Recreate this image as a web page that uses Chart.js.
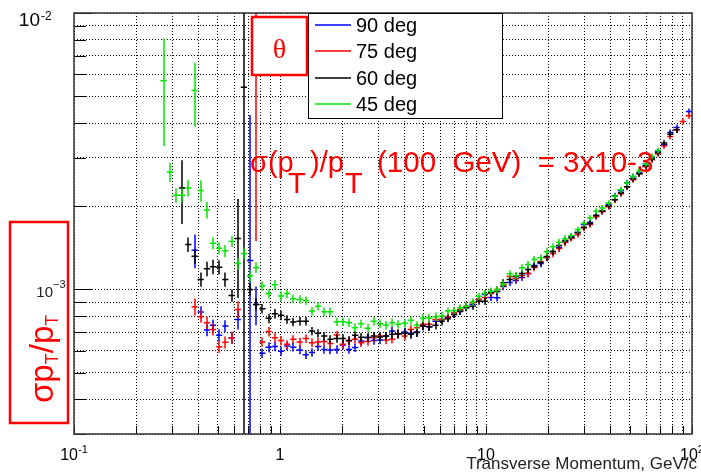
<!DOCTYPE html>
<html lang="en">
<head>
<meta charset="UTF-8">
<title>pT resolution vs transverse momentum</title>
<script src="https://cdn.jsdelivr.net/npm/chart.js"></script>
<style>
  html, body { margin: 0; padding: 0; background: #fff; }
  #wrap { position: relative; width: 701px; height: 473px; }
</style>
</head>
<body>
<div id="wrap"><canvas id="chart" width="701" height="473"></canvas></div>
<script>
// bin centres (GeV/c), log bins
const pT = [
  0.272, 0.292, 0.313, 0.335, 0.359, 0.385, 0.412, 0.442, 0.473, 0.507,
  0.543, 0.582, 0.624, 0.668, 0.716, 0.767, 0.822, 0.881, 0.944, 1.012,
  1.084, 1.161, 1.245, 1.334, 1.429, 1.531, 1.641, 1.758, 1.884, 2.018,
  2.163, 2.317, 2.483, 2.661, 2.851, 3.055, 3.273, 3.508, 3.758, 4.027,
  4.315, 4.624, 4.955, 5.309, 5.689, 6.095, 6.531, 6.998, 7.499, 8.035,
  8.610, 9.226, 9.886, 10.59, 11.35, 12.16, 13.03, 13.96, 14.96, 16.03,
  17.18, 18.41, 19.72, 21.13, 22.65, 24.27, 26.00, 27.86, 29.85, 31.99,
  34.28, 36.73, 39.36, 42.17, 45.19, 48.42, 51.88, 55.59, 59.57, 63.83,
  68.39, 73.28, 78.52, 84.14, 90.16, 96.61
];

// sigma(pT)/pT in units of 1e-3 (null = empty bin)
const res90 = [
  null, null, null, null, null, 1.387, 0.828, 0.713, 0.742, 0.683,
  0.737, 0.669, 0.779, null, 1.273, 0.883, 0.588, 0.618, 0.622, 0.598,
  0.624, 0.618, 0.604, 0.581, 0.592, 0.622, 0.607, 0.604, 0.607, 0.629,
  0.607, 0.616, 0.651, 0.670, 0.654, 0.656, 0.678, 0.707, 0.688, 0.701,
  0.694, 0.701, 0.737, 0.733, 0.768, 0.779, 0.793, 0.812, 0.833, 0.861,
  0.883, 0.920, 0.959, 0.936, 0.933, 1.025, 1.060, 1.078, 1.105, 1.142,
  1.221, 1.241, 1.305, 1.371, 1.418, 1.503, 1.554, 1.606, 1.716, 1.746,
  1.850, 1.928, 2.027, 2.184, 2.276, 2.433, 2.557, 2.643, 2.848, 2.994,
  3.147, 3.335, 3.698, 3.854, null, 4.402
];
const res75 = [
  null, null, null, null, null, 0.866, 0.797, 0.758, 0.717, 0.621,
  0.644, 0.668, 0.847, null, null, 13.0, 0.646, 0.704, 0.669, 0.653,
  0.633, 0.660, 0.646, 0.664, 0.642, 0.646, 0.648, 0.637, 0.684, 0.633,
  0.651, 0.660, 0.642, 0.648, 0.669, 0.678, 0.656, 0.660, 0.692, 0.678,
  0.717, 0.727, 0.748, 0.748, 0.779, 0.779, 0.797, 0.824, 0.847, 0.870,
  0.895, 0.920, 0.936, 0.967, 1.000, 1.034, 1.114, 1.096, 1.123, 1.142,
  1.200, 1.262, 1.305, 1.349, 1.406, 1.478, 1.528, 1.580, 1.667, 1.716,
  1.834, 1.912, 1.993, 2.112, 2.220, 2.353, 2.494, 2.621, 2.778, 2.945,
  3.095, 3.308, 3.575, 3.778, 4.051, 4.248
];
const res60 = [
  null, null, null, 2.33, 1.454, 1.319, 1.087, 1.188, 1.208, 1.204,
  1.087, 0.951, 1.528, 5.39, 1.00, 0.883, 0.852, 0.786, 0.817, 0.806,
  0.779, 0.762, 0.768, 0.768, 0.707, 0.694, 0.678, 0.660, 0.665, 0.665,
  0.654, 0.683, 0.672, 0.670, 0.678, 0.673, 0.678, 0.688, 0.692, 0.694,
  0.688, 0.698, 0.737, 0.733, 0.742, 0.768, 0.784, 0.812, 0.835, 0.859,
  0.870, 0.907, 0.907, 0.975, 0.983, 1.057, 1.087, 1.114, 1.142, 1.181,
  1.211, 1.252, 1.316, 1.371, 1.441, 1.497, 1.541, 1.606, 1.680, 1.731,
  1.850, 1.928, 2.010, 2.112, 2.238, 2.353, 2.515, 2.621, 2.801, 2.970,
  3.121, 3.386, 3.642, 3.778, null, null
];
const res45 = [
  5.69, 2.66, 2.19, 2.19, 2.33, 5.24, 2.28, 1.94, 1.47, 1.41,
  1.38, 1.49, 1.24, 1.35, 1.12, 1.20, 1.03, 0.967, 1.04, 0.947,
  0.966, 0.926, 0.920, 0.912, 0.835, 0.870, 0.831, 0.831, 0.764, 0.764,
  0.758, 0.727, 0.752, 0.724, 0.768, 0.752, 0.743, 0.758, 0.748, 0.754,
  0.773, 0.742, 0.786, 0.788, 0.797, 0.801, 0.835, 0.840, 0.859, 0.870,
  0.900, 0.944, 0.967, 0.986, 1.000, 1.043, 1.139, 1.123, 1.198, 1.231,
  1.283, 1.301, 1.368, 1.426, 1.482, 1.524, 1.566, 1.646, 1.731, 1.812,
  1.918, 1.972, 2.056, 2.172, 2.295, 2.428, 2.565, 2.690, 2.850, 3.029,
  3.184, null, null, null, null, null
];

// errors, in % of the value
const err90 = [
  null, null, null, null, null, 14, 5, 5, 5, 5,
  5, 5, 8, null, 236, 16, 4, 4, 4, 4,
  3.5, 3.5, 3.5, 3.5, 3.5, 3.5, 3.5, 3.5, 3.5, 3.5,
  3.5, 3.5, 3.5, 3.5, 3.5, 3.5, 3.5, 3.5, 3.5, 3.5,
  3.5, 3.5, 3.5, 3.5, 3.5, 3.5, 3, 3, 3, 3,
  3, 3, 3, 3, 3, 3, 3, 3, 3, 3,
  3, 3, 3, 3, 3, 3, 2.5, 2.5, 2.5, 2.5,
  2.5, 2.5, 2.5, 2.5, 2.5, 2.5, 2.5, 2.5, 2.5, 2.5,
  2.5, 2.5, 2.5, 2.5, null, 2.5
];
const err75 = [
  null, null, null, null, null, 7, 5, 5, 5, 5,
  5, 5, 7, null, null, 88.5, 4, 4, 4, 4,
  3.5, 3.5, 3.5, 3.5, 3.5, 3.5, 3.5, 3.5, 3.5, 3.5,
  3.5, 3.5, 3.5, 3.5, 3.5, 3.5, 3.5, 3.5, 3.5, 3.5,
  3.5, 3.5, 3.5, 3.5, 3.5, 3.5, 3, 3, 3, 3,
  3, 3, 3, 3, 3, 3, 3, 3, 3, 3,
  3, 3, 3, 3, 3, 3, 2.5, 2.5, 2.5, 2.5,
  2.5, 2.5, 2.5, 2.5, 2.5, 2.5, 2.5, 2.5, 2.5, 2.5,
  2.5, 2.5, 2.5, 2.5, 2.5, 2.5
];
const err60 = [
  null, null, null, 26, 6, 6, 6, 6, 6, 6,
  6, 5, 39, 98, 5, 5, 4, 4, 4, 4,
  3.5, 3.5, 3.5, 3.5, 3.5, 3.5, 3.5, 3.5, 3.5, 3.5,
  3.5, 3.5, 3.5, 3.5, 3.5, 3.5, 3.5, 3.5, 3.5, 3.5,
  3.5, 3.5, 3.5, 3.5, 3.5, 3.5, 3, 3, 3, 3,
  3, 3, 3, 3, 3, 3, 3, 3, 3, 3,
  3, 3, 3, 3, 3, 3, 2.5, 2.5, 2.5, 2.5,
  2.5, 2.5, 2.5, 2.5, 2.5, 2.5, 2.5, 2.5, 2.5, 2.5,
  2.5, 2.5, 2.5, 2.5, null, null
];
const err45 = [
  42, 8, 6, 6, 7, 26, 9, 7, 5, 5,
  5, 4.5, 5, 5, 5, 4.5, 4, 4, 4, 4,
  3.5, 3.5, 3.5, 3.5, 3.5, 3.5, 3.5, 3.5, 3.5, 3.5,
  3.5, 3.5, 3.5, 3.5, 3.5, 3.5, 3.5, 3.5, 3.5, 3.5,
  3.5, 3.5, 3.5, 3.5, 3.5, 3.5, 3, 3, 3, 3,
  3, 3, 3, 3, 3, 3, 3, 3, 3, 3,
  3, 3, 3, 3, 3, 3, 2.5, 2.5, 2.5, 2.5,
  2.5, 2.5, 2.5, 2.5, 2.5, 2.5, 2.5, 2.5, 2.5, 2.5,
  2.5, null, null, null, null, null
];

const seriesNames = ["90 deg", "75 deg", "60 deg", "45 deg"];
const seriesVals = [res90, res75, res60, res45];
const seriesErrs = [err90, err75, err60, err45];
const seriesColors = ["#0000ff", "#ff0000", "#000000", "#00e600"];

const xGrid = [0.1, 0.2, 0.3, 0.4, 0.5, 0.6, 0.7, 0.8, 0.9,
  1, 2, 3, 4, 5, 6, 7, 8, 9, 10, 20, 30, 40, 50, 60, 70, 80, 90, 100];
const yGrid = [3e-4, 4e-4, 5e-4, 6e-4, 7e-4, 8e-4, 9e-4,
  1e-3, 2e-3, 3e-3, 4e-3, 5e-3, 6e-3, 7e-3, 8e-3, 9e-3, 1e-2];
const xLabels = [[0.1, "10", "-1"], [1, "1", ""], [10, "10", ""], [100, "10", "2"]];

const UNIT = 1e-3;
const binHalfWidth = 0.015; // log10 units
const FONT = '"Liberation Sans", Arial, Helvetica, sans-serif';

function makeSeries(vals, errs) {
  const pts = [];
  vals.forEach((v, k) => {
    if (v === null) return;
    pts.push({ x: pT[k], y: v * UNIT, err: v * errs[k] / 100 * UNIT });
  });
  return pts;
}

function text(ctx, str, x, y, size, color, align, family) {
  ctx.font = size + 'px ' + (family || FONT);
  ctx.fillStyle = color || '#000';
  ctx.textAlign = align || 'left';
  ctx.textBaseline = 'alphabetic';
  ctx.fillText(str, x, y);
  return ctx.measureText(str).width;
}

const rootStyle = {
  id: 'rootStyle',
  beforeDraw(chart) {
    const c = chart.ctx;
    c.save();
    c.fillStyle = '#fff';
    c.fillRect(0, 0, chart.width, chart.height);
    c.restore();
  },
  afterDatasetsDraw(chart) {
    const { ctx, chartArea: a, scales: { x, y } } = chart;
    const f = Math.pow(10, binHalfWidth);
    ctx.save();
    ctx.beginPath();
    ctx.rect(a.left, a.top, a.right - a.left, a.bottom - a.top);
    ctx.clip();
    ctx.lineWidth = 1.5;
    chart.data.datasets.forEach(ds => {
      ctx.strokeStyle = ds.borderColor;
      ds.data.forEach(p => {
        const px = Math.round(x.getPixelForValue(p.x));
        const py = y.getPixelForValue(p.y);
        const lo = Math.max(p.y - p.err, y.min * 0.1);
        ctx.beginPath();
        ctx.moveTo(px, y.getPixelForValue(lo));
        ctx.lineTo(px, y.getPixelForValue(p.y + p.err));
        ctx.moveTo(x.getPixelForValue(p.x / f), py);
        ctx.lineTo(x.getPixelForValue(p.x * f), py);
        ctx.stroke();
      });
    });
    ctx.restore();
  },
  afterDraw(chart) {
    const { ctx, chartArea: a, scales: { x, y } } = chart;
    ctx.save();

    // inward ticks
    ctx.strokeStyle = '#000';
    ctx.lineWidth = 1;
    ctx.beginPath();
    xGrid.forEach(v => {
      const px = Math.round(x.getPixelForValue(v)) + 0.5;
      ctx.moveTo(px, a.bottom);
      ctx.lineTo(px, a.bottom - 8);
    });
    yGrid.forEach(v => {
      const py = Math.round(y.getPixelForValue(v)) + 0.5;
      const major = Math.abs(Math.log10(v) - Math.round(Math.log10(v))) < 1e-6;
      ctx.moveTo(a.left, py);
      ctx.lineTo(a.left + (major ? 19 : 12), py);
    });
    ctx.stroke();

    // frame
    ctx.strokeStyle = '#333';
    ctx.lineWidth = 1.5;
    ctx.strokeRect(a.left, a.top, a.right - a.left, a.bottom - a.top);

    // x tick labels
    xLabels.forEach(([v, base, sup]) => {
      const cx = x.getPixelForValue(v);
      ctx.font = '16px ' + FONT;
      const wb = ctx.measureText(base).width;
      ctx.font = '11px ' + FONT;
      const ws = sup ? ctx.measureText(sup).width : 0;
      const x0 = cx - (wb + ws) / 2;
      text(ctx, base, x0, 460, 16, '#000');
      if (sup) text(ctx, sup, x0 + wb, 453, 11, '#000');
    });

    // y tick labels
    const y2 = y.getPixelForValue(1e-2);
    text(ctx, '10', 40, y2 + 13, 19, '#000', 'right');
    text(ctx, '-2', 41, y2 + 7, 12, '#000');
    const y3 = y.getPixelForValue(1e-3);
    text(ctx, '10', 53, y3 + 8, 15, '#222', 'right');
    text(ctx, '\u22123', 53, y3 - 1, 11, '#222');

    // x axis title
    text(ctx, 'Transverse Momentum, GeV/c', 697, 469, 17, '#222', 'right');

    // legend
    ctx.fillStyle = '#fff';
    ctx.fillRect(308, 13, 195, 105);
    ctx.strokeStyle = '#000';
    ctx.lineWidth = 1;
    ctx.strokeRect(308.5, 13.5, 194, 105);
    const rows = [25, 51, 78, 104];
    seriesNames.forEach((name, s) => {
      ctx.strokeStyle = seriesColors[s];
      ctx.lineWidth = 1.5;
      ctx.beginPath();
      ctx.moveTo(315, rows[s]);
      ctx.lineTo(351, rows[s]);
      ctx.stroke();
      text(ctx, name, 356, rows[s] + 7, 20, '#000');
    });

    // theta box
    ctx.fillStyle = '#fff';
    ctx.fillRect(252, 17, 55, 58);
    ctx.strokeStyle = '#ff0000';
    ctx.lineWidth = 2.5;
    ctx.strokeRect(252, 17, 55, 58);
    text(ctx, '\u03b8', 279.5, 58, 28, '#ff0000', 'center', '"Liberation Serif", "Times New Roman", serif');

    // resolution annotation
    const red = '#ff0000';
    text(ctx, '\u03c3(p', 250, 172, 29, red);
    text(ctx, 'T', 288, 193, 29, red);
    text(ctx, ')/p', 310, 172, 29, red);
    text(ctx, 'T', 345, 193, 29, red);
    text(ctx, '(100  GeV)  = 3x10-3', 377, 172, 29.5, red);

    // y axis title box
    ctx.strokeStyle = red;
    ctx.lineWidth = 2.5;
    ctx.strokeRect(10, 222, 58, 201);
    ctx.translate(53, 403);
    ctx.rotate(-Math.PI / 2);
    let cx = 0;
    cx += text(ctx, '\u03c3p', cx, 0, 33, red);
    cx += text(ctx, 'T', cx, 5, 18, red);
    cx += text(ctx, '/p', cx, 0, 33, red);
    text(ctx, 'T', cx, 5, 18, red);

    ctx.restore();
  }
};

new Chart(document.getElementById('chart'), {
  type: 'scatter',
  data: {
    datasets: seriesNames.map((name, s) => ({
      label: name,
      data: makeSeries(seriesVals[s], seriesErrs[s]),
      borderColor: seriesColors[s],
      backgroundColor: seriesColors[s],
      pointRadius: 0,
      pointHoverRadius: 0,
      showLine: false
    }))
  },
  options: {
    responsive: false,
    animation: false,
    events: [],
    layout: { padding: { left: 74, right: 9, top: 13, bottom: 39 } },
    plugins: { legend: { display: false }, tooltip: { enabled: false } },
    scales: {
      x: {
        type: 'logarithmic', min: 0.1, max: 100,
        afterBuildTicks: s => { s.ticks = xGrid.map(v => ({ value: v })); },
        afterFit: s => { s.height = 0; },
        ticks: { display: false },
        grid: { color: '#000', lineWidth: 1, drawTicks: false },
        border: { display: false, dash: [1, 2] }
      },
      y: {
        type: 'logarithmic', min: 3e-4, max: 1e-2,
        afterBuildTicks: s => { s.ticks = yGrid.map(v => ({ value: v })); },
        afterFit: s => { s.width = 0; },
        ticks: { display: false },
        grid: { color: '#000', lineWidth: 1, drawTicks: false },
        border: { display: false, dash: [1, 2] }
      }
    }
  },
  plugins: [rootStyle]
});
</script>
</body>
</html>
